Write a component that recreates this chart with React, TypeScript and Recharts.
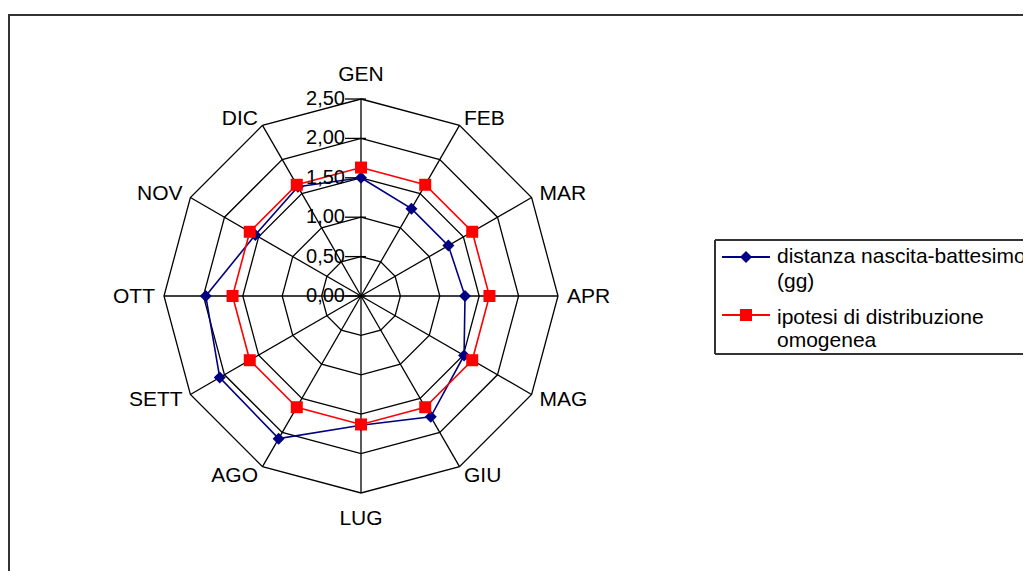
import React from "react";
import {
  RadarChart,
  Radar,
  PolarGrid,
  PolarAngleAxis,
  PolarRadiusAxis,
  Legend,
} from "recharts";

const months = ["GEN", "FEB", "MAR", "APR", "MAG", "GIU", "LUG", "AGO", "SETT", "OTT", "NOV", "DIC"];
const distanza = [1.5, 1.28, 1.28, 1.32, 1.51, 1.77, 1.64, 2.09, 2.07, 1.97, 1.55, 1.6];
const omogenea = [1.63, 1.63, 1.63, 1.63, 1.63, 1.63, 1.63, 1.63, 1.63, 1.63, 1.63, 1.63];

const data = months.map((m, i) => ({
  month: m,
  distanza: distanza[i],
  omogenea: omogenea[i],
}));

const FONT = '"Liberation Sans", Arial, sans-serif';
const W = 1021;
const H = 555;
const CX = 351;
const CY = 280;
const R = 197;
const MAX = 2.5;

const AngleTick = (props: any) => {
  const i = months.indexOf(props.payload.value);
  const a = ((90 - i * 30) * Math.PI) / 180;
  const cos = Math.cos(a);
  const sin = Math.sin(a);
  const r = R + 9;
  const x = CX + r * cos;
  let y = CY - r * sin;
  const vertical = Math.abs(cos) < 0.01;
  if (vertical) y -= sin * 16;
  const anchor = vertical ? "middle" : cos > 0 ? "start" : "end";
  return (
    <text x={x} y={y} dy="0.35em" textAnchor={anchor} fontFamily={FONT} fontSize={21} fill="#000">
      {props.payload.value}
    </text>
  );
};

// tick mark crossing the GEN spoke plus its "0,00"-style label on the left
const RadiusTick = (props: any) => {
  const { x, y, payload } = props;
  const v = Number(payload.value);
  return (
    <g>
      <line x1={x - 16} y1={y} x2={x + 5} y2={y} stroke="#000" strokeWidth={1.3} />
      <text x={x - 16} y={y - 1} dy="0.35em" textAnchor="end" fontFamily={FONT} fontSize={20} fill="#000">
        {v.toFixed(2).replace(".", ",")}
      </text>
    </g>
  );
};

const diamond = (cx: number, cy: number, s: number) =>
  `M${cx},${cy - s}L${cx + s},${cy}L${cx},${cy + s}L${cx - s},${cy}Z`;

const DiamondDot = (props: any) => (
  <path key={`d-${props.index}`} d={diamond(props.cx, props.cy, 6)} fill="#000080" />
);

const SquareDot = (props: any) => (
  <rect key={`s-${props.index}`} x={props.cx - 6} y={props.cy - 6} width={12} height={12} fill="#ff0000" />
);

const LegendBox = () => (
  <svg width={330} height={116} style={{ display: "block" }}>
    <rect x={0} y={0} width={330} height={116} fill="#fff" />
    <line x1={1} y1={1} x2={330} y2={1} stroke="#333" strokeWidth={2} />
    <line x1={1} y1={1} x2={1} y2={115} stroke="#333" strokeWidth={2} />
    <line x1={1} y1={115} x2={330} y2={115} stroke="#333" strokeWidth={2} />
    <line x1={8} y1={18} x2={56} y2={18} stroke="#000080" strokeWidth={1.8} />
    <path d={diamond(32, 18, 6)} fill="#000080" />
    <text x={63} y={24} fontFamily={FONT} fontSize={21} fill="#000">
      distanza nascita-battesimo
    </text>
    <text x={63} y={49} fontFamily={FONT} fontSize={21} fill="#000">
      (gg)
    </text>
    <line x1={8} y1={76} x2={56} y2={76} stroke="#ff0000" strokeWidth={1.8} />
    <rect x={26} y={70} width={12} height={12} fill="#ff0000" />
    <text x={63} y={85} fontFamily={FONT} fontSize={21} fill="#000">
      ipotesi di distribuzione
    </text>
    <text x={63} y={108} fontFamily={FONT} fontSize={21} fill="#000">
      omogenea
    </text>
  </svg>
);

export default function App() {
  return (
    <div
      style={{
        marginTop: 6,
        width: 1023,
        height: 557,
        boxSizing: "border-box",
        borderLeft: "2px solid #333",
        borderTop: "2px solid #333",
        overflow: "hidden",
        background: "#fff",
      }}
    >
      <RadarChart
        width={W}
        height={H}
        data={data}
        cx={CX}
        cy={CY}
        outerRadius={R}
        startAngle={90}
        endAngle={-270}
        margin={{ top: 0, right: 0, bottom: 0, left: 0 }}
      >
        <PolarGrid gridType="polygon" stroke="#000" strokeWidth={1.3} />
        <PolarAngleAxis dataKey="month" tick={AngleTick} tickLine={false} axisLine={false} />
        <PolarRadiusAxis
          angle={90}
          type="number"
          domain={[0, MAX]}
          allowDecimals
          allowDataOverflow
          tickCount={6}
          tick={RadiusTick}
          tickLine={false}
          axisLine={false}
        />
        <Radar
          name="distanza nascita-battesimo (gg)"
          dataKey="distanza"
          stroke="#000080"
          strokeWidth={1.6}
          fill="none"
          fillOpacity={0}
          dot={DiamondDot}
          isAnimationActive={false}
        />
        <Radar
          name="ipotesi di distribuzione omogenea"
          dataKey="omogenea"
          stroke="#ff0000"
          strokeWidth={1.6}
          fill="none"
          fillOpacity={0}
          dot={SquareDot}
          isAnimationActive={false}
        />
        <Legend
          verticalAlign="top"
          align="left"
          content={LegendBox}
          wrapperStyle={{ left: 704, top: 223, width: 330 }}
        />
      </RadarChart>
    </div>
  );
}
